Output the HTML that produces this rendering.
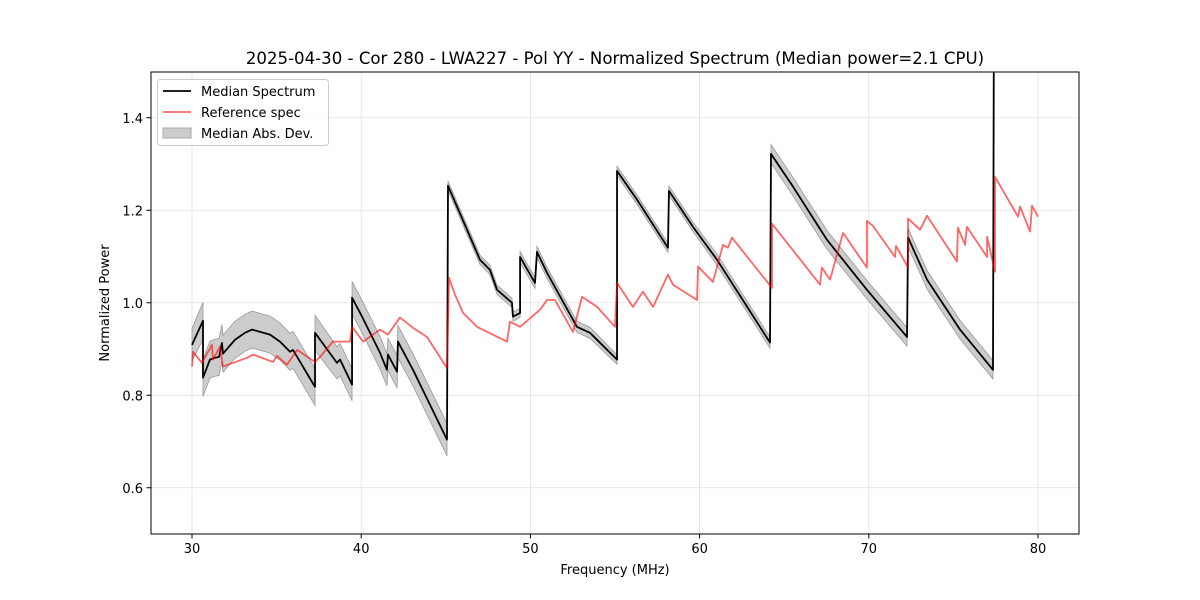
<!DOCTYPE html>
<html><head><meta charset="utf-8"><style>
body{margin:0;background:#fff;}
svg{display:block;font-family:"DejaVu Sans","Liberation Sans",sans-serif;}
</style></head><body>
<svg id="chart" width="1200" height="600" xmlns="http://www.w3.org/2000/svg">
<rect width="1200" height="600" fill="#fff"/>
<text x="615" y="64" font-size="16.6" text-anchor="middle">2025-04-30 - Cor 280 - LWA227 - Pol YY - Normalized Spectrum (Median power=2.1 CPU)</text>
<g id="grid"></g>
<defs><clipPath id="clip"><rect x="151" y="72" width="928" height="462"/></clipPath></defs>
<g id="plot" clip-path="url(#clip)"></g>
<rect x="151" y="72" width="928" height="462" fill="none" stroke="#000" stroke-width="1"/>
<g id="ticks"></g>
<text x="615" y="574" font-size="13" text-anchor="middle">Frequency (MHz)</text>
<text transform="translate(109,303) rotate(-90)" font-size="13" text-anchor="middle">Normalized Power</text>
<g>
<rect x="157.5" y="79.5" width="171" height="66" rx="3" fill="#fff" fill-opacity="0.8" stroke="#ccc"/>
<line x1="163" y1="91" x2="191" y2="91" stroke="#000" stroke-width="1.8"/>
<text x="201" y="96" font-size="13">Median Spectrum</text>
<line x1="163" y1="112" x2="191" y2="112" stroke="#ff6666" stroke-width="1.8"/>
<text x="201" y="117" font-size="13">Reference spec</text>
<rect x="163" y="128" width="28" height="10" fill="#cccccc" stroke="#aaa"/>
<text x="201" y="138" font-size="13">Median Abs. Dev.</text>
</g>
</svg>
<script>
const medFreq=[30.00,30.65,30.65,31.06,31.36,31.60,31.77,31.83,32.54,33.13,33.55,34.61,35.20,35.79,35.97,37.27,37.27,38.57,38.75,39.46,39.46,40.05,41.11,41.52,41.58,42.12,42.17,43.06,45.07,45.13,47.02,47.61,48.03,48.91,48.97,49.39,49.39,50.27,50.39,50.98,52.75,53.52,55.12,55.12,56.30,58.13,58.19,59.61,61.03,64.16,64.22,65.52,67.53,69.89,72.26,72.32,73.44,75.39,77.34,77.40];
const medVal=[0.909,0.961,0.838,0.877,0.881,0.883,0.913,0.890,0.920,0.935,0.942,0.931,0.916,0.894,0.898,0.818,0.935,0.870,0.877,0.823,1.011,0.970,0.892,0.855,0.888,0.851,0.916,0.855,0.704,1.253,1.093,1.071,1.028,1.000,0.970,0.978,1.099,1.043,1.110,1.065,0.948,0.935,0.877,1.285,1.223,1.119,1.242,1.164,1.093,0.914,1.322,1.251,1.136,1.028,0.926,1.141,1.050,0.942,0.855,1.700];
const madHalf=[0.035,0.04,0.04,0.04,0.04,0.04,0.04,0.04,0.04,0.04,0.04,0.04,0.04,0.04,0.04,0.04,0.038,0.035,0.035,0.035,0.035,0.035,0.035,0.035,0.035,0.035,0.035,0.035,0.035,0.01,0.01,0.01,0.01,0.01,0.01,0.01,0.012,0.012,0.012,0.012,0.012,0.012,0.01,0.01,0.01,0.01,0.01,0.01,0.012,0.012,0.02,0.02,0.02,0.02,0.02,0.02,0.02,0.02,0.02,0.02];
const refFreq=[30.00,30.06,30.59,31.18,31.24,31.65,31.83,33.25,33.61,34.79,35.02,35.61,36.21,37.27,37.57,38.33,39.34,39.46,40.11,41.11,41.58,42.29,43.06,43.89,45.07,45.19,45.55,46.02,46.84,48.62,48.79,49.39,50.57,50.98,51.45,52.52,53.05,53.94,55.00,55.12,56.06,56.65,57.25,58.13,58.43,59.85,59.91,60.79,61.38,61.68,61.91,64.28,64.28,67.12,67.23,67.71,68.48,69.89,69.89,70.25,71.55,71.61,72.32,72.32,73.03,73.44,75.21,75.27,75.69,75.80,76.99,76.99,77.46,77.46,78.82,78.94,79.53,79.65,80.00];
const refVal=[0.862,0.894,0.870,0.909,0.877,0.905,0.862,0.881,0.888,0.872,0.885,0.866,0.898,0.872,0.883,0.916,0.916,0.948,0.916,0.942,0.931,0.968,0.946,0.926,0.859,1.054,1.017,0.978,0.948,0.916,0.959,0.948,0.985,1.006,1.006,0.937,1.013,0.991,0.948,1.043,0.991,1.024,0.991,1.061,1.039,1.006,1.078,1.045,1.125,1.119,1.141,1.032,1.171,1.039,1.076,1.050,1.151,1.076,1.177,1.166,1.099,1.123,1.076,1.182,1.158,1.188,1.089,1.162,1.125,1.164,1.099,1.143,1.067,1.272,1.186,1.208,1.154,1.210,1.186];
const xTicks=[30,40,50,60,70,80];
const yTicks=[0.6,0.8,1.0,1.2,1.4];
const yTickLabels=["0.6","0.8","1.0","1.2","1.4"];

const NS="http://www.w3.org/2000/svg";
const X=f=>192+(f-30)*16.92;
const Y=v=>534-(v-0.5)*462.5;
function mk(tag,attrs,parent){const e=document.createElementNS(NS,tag);for(const k in attrs)e.setAttribute(k,attrs[k]);parent.appendChild(e);return e;}
const grid=document.getElementById('grid'),plot=document.getElementById('plot'),ticks=document.getElementById('ticks');
xTicks.forEach(t=>{
 const g=mk('line',{x1:X(t),x2:X(t),y1:72,y2:534,stroke:'#e0e0e0','stroke-width':0.8},grid);
 
 
 const tk=mk('line',{x1:X(t),x2:X(t),y1:534,y2:538.5,stroke:'#000'},ticks);
 
 
 const tx=mk('text',{x:X(t),y:553,'font-size':13,'text-anchor':'middle'},ticks);tx.textContent=t;
 
 
});
yTicks.forEach((t,i)=>{
 const g=mk('line',{x1:151,x2:1079,y1:Y(t),y2:Y(t),stroke:'#e0e0e0','stroke-width':0.8},grid);
 
 
 const tk=mk('line',{x1:146.5,x2:151,y1:Y(t),y2:Y(t),stroke:'#000'},ticks);
 
 
 const tx=mk('text',{x:143,y:Y(t)+5,'font-size':13,'text-anchor':'end'},ticks);tx.textContent=yTickLabels[i];
 
 
});
let up=medFreq.map((f,i)=>X(f)+','+Y(medVal[i]+madHalf[i]));
let dn=medFreq.map((f,i)=>X(f)+','+Y(medVal[i]-madHalf[i])).reverse();
const band=mk('polygon',{points:up.concat(dn).join(' '),fill:'#bbbbbb','fill-opacity':0.75,stroke:'#999','stroke-width':0.8},plot);


const med=mk('polyline',{points:medFreq.map((f,i)=>X(f)+','+Y(medVal[i])).join(' '),fill:'none',stroke:'#000','stroke-width':1.8,'stroke-linejoin':'round'},plot);


const ref=mk('polyline',{points:refFreq.map((f,i)=>X(f)+','+Y(refVal[i])).join(' '),fill:'none',stroke:'#ff0000','stroke-opacity':0.6,'stroke-width':1.8,'stroke-linejoin':'round'},plot);


</script>
</body></html>
